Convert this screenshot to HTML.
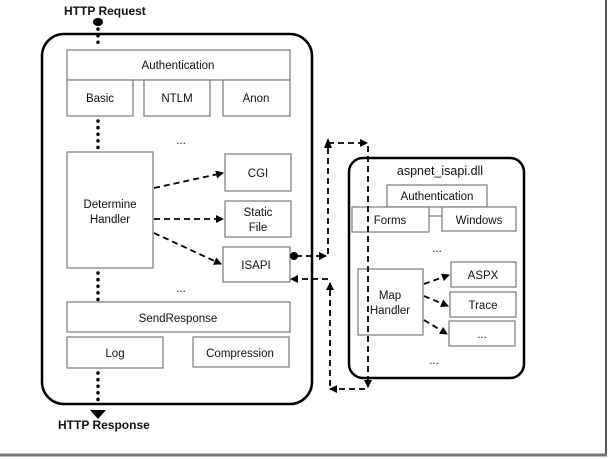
<!DOCTYPE html>
<html><head><style>
body{margin:0;background:#fff;}
svg{display:block;font-family:"Liberation Sans",Arial,sans-serif;}
</style></head><body>
<svg width="610" height="459" viewBox="0 0 610 459">
<defs>
<marker id="a" markerWidth="8" markerHeight="8" refX="7" refY="4" orient="auto" markerUnits="userSpaceOnUse"><path d="M0,0 L8,4 L0,8 z" fill="#000"/></marker>
</defs>
<rect x="0" y="0" width="610" height="459" fill="#fff"/>
<line x1="606" y1="0" x2="606" y2="455" stroke="#555" stroke-width="2"/>
<line x1="0" y1="455" x2="607" y2="455" stroke="#777" stroke-width="3"/>
<g font-size="12" font-weight="bold" fill="#111">
<text x="64" y="15">HTTP Request</text>
<text x="58" y="429">HTTP Response</text>
</g>
<ellipse cx="98" cy="22" rx="5" ry="4" fill="#000"/>
<rect x="42" y="34" width="270" height="370" rx="22" fill="none" stroke="#000" stroke-width="2.5"/>
<g stroke="#000" stroke-width="3.5" stroke-dasharray="0.1 6.5" stroke-linecap="round">
<line x1="98" y1="29" x2="98" y2="48"/>
<line x1="98" y1="121" x2="98" y2="150"/>
<line x1="98" y1="273" x2="98" y2="300"/>
<line x1="98" y1="373" x2="98" y2="406"/>
</g>
<path d="M90,410 L106,410 L98,419 z" fill="#000"/>
<g fill="#fff" stroke="#777" stroke-width="1.2">
<rect x="67" y="50" width="223" height="30"/>
<rect x="67" y="80" width="66" height="36"/>
<rect x="144" y="80" width="66" height="36"/>
<rect x="223" y="80" width="67" height="36"/>
<rect x="67" y="152" width="86" height="116"/>
<rect x="225" y="154" width="66" height="37"/>
<rect x="225" y="201" width="66" height="36"/>
<rect x="223" y="247" width="67" height="35"/>
<rect x="67" y="302" width="223" height="30"/>
<rect x="67" y="337" width="96" height="31"/>
<rect x="193" y="337" width="96" height="30"/>
<rect x="349" y="158" width="175" height="220" rx="14" stroke="#000" stroke-width="2.5"/>
<rect x="387" y="185" width="100" height="22"/>
<line x1="429" y1="216" x2="442" y2="216"/>
<rect x="352" y="207" width="77" height="25"/>
<rect x="442" y="207" width="74" height="24"/>
<rect x="358" y="269" width="65" height="66"/>
<rect x="451" y="262" width="65" height="25"/>
<rect x="450" y="292" width="66" height="25"/>
<rect x="449" y="321" width="66" height="25"/>
</g>
<g font-size="11.5" fill="#111" text-anchor="middle">
<text x="178" y="69">Authentication</text>
<text x="100" y="102">Basic</text>
<text x="177" y="102">NTLM</text>
<text x="256" y="102">Anon</text>
<text x="181" y="144">...</text>
<text x="110" y="208">Determine</text>
<text x="110" y="223">Handler</text>
<text x="258" y="177">CGI</text>
<text x="258" y="216">Static</text>
<text x="258" y="231">File</text>
<text x="256" y="269">ISAPI</text>
<text x="181" y="292">...</text>
<text x="178" y="322">SendResponse</text>
<text x="115" y="357">Log</text>
<text x="240" y="357">Compression</text>
<text x="440" y="175" font-size="12.5">aspnet_isapi.dll</text>
<text x="437" y="200">Authentication</text>
<text x="390" y="224">Forms</text>
<text x="479" y="224">Windows</text>
<text x="437" y="252">...</text>
<text x="390" y="299">Map</text>
<text x="390" y="314">Handler</text>
<text x="483" y="279">ASPX</text>
<text x="483" y="309">Trace</text>
<text x="482" y="338">...</text>
<text x="434" y="364">...</text>
</g>
<g stroke="#000" stroke-width="1.8" stroke-dasharray="6 4" fill="none">
<line x1="154" y1="188" x2="223" y2="173" marker-end="url(#a)"/>
<line x1="154" y1="219" x2="223" y2="219" marker-end="url(#a)"/>
<line x1="154" y1="233" x2="221" y2="264" marker-end="url(#a)"/>
<line x1="424" y1="284" x2="449" y2="275" marker-end="url(#a)"/>
<line x1="424" y1="296" x2="448" y2="306" marker-end="url(#a)"/>
<line x1="424" y1="320" x2="447" y2="334" marker-end="url(#a)"/>
<line x1="296" y1="256" x2="326" y2="256" marker-end="url(#a)"/>
<line x1="328" y1="254" x2="328" y2="146"/>
<line x1="328" y1="143" x2="367" y2="143" marker-end="url(#a)"/>
<line x1="368" y1="146" x2="368" y2="387" marker-end="url(#a)"/>
<line x1="365" y1="389" x2="330" y2="389" marker-end="url(#a)"/>
<line x1="330" y1="386" x2="330" y2="283" marker-end="url(#a)"/>
<line x1="328" y1="279" x2="291" y2="279" marker-end="url(#a)"/>
</g>
<path d="M324,148 L328,138 L332,148 z" fill="#000"/>
<circle cx="294" cy="256" r="4" fill="#000"/>
</svg>
</body></html>
